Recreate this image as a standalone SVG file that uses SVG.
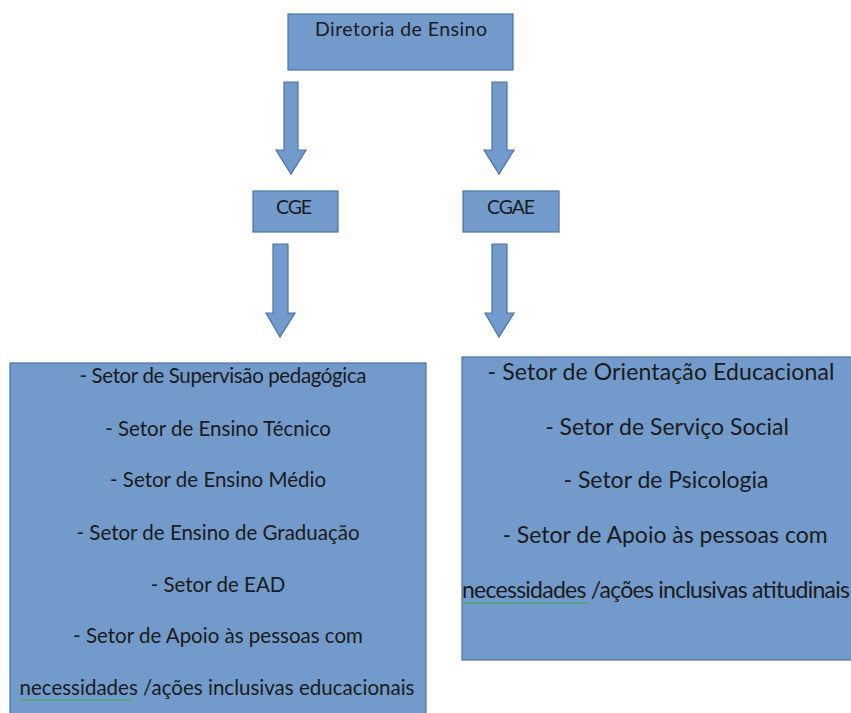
<svg xmlns="http://www.w3.org/2000/svg" width="851" height="713" viewBox="0 0 851 713">
<style>
.box{fill:#729acb;stroke:#4a74a8;stroke-width:1.2}
.arr{fill:#729acb;stroke:#4a74a8;stroke-width:1.2;stroke-linejoin:miter}
text{font-family:Lato,"Open Sans","Liberation Sans",sans-serif;fill:#1b1b1b;text-anchor:middle}
.t1{font-size:19.5px}
.t2{font-size:20.5px}
.t3{font-size:23px}
.sq{fill:none;stroke:#3fae3f;stroke-width:1}
</style>
<rect width="851" height="713" fill="#ffffff"/>
<g id="diretoria">
<rect class="box" x="288" y="14" width="225" height="56"/>
<text class="t1" x="401" y="36" textLength="172">Diretoria de Ensino</text>
</g>
<g id="cge">
<rect class="box" x="253" y="191" width="85" height="41"/>
<text class="t1" x="294" y="214" textLength="36">CGE</text>
</g>
<g id="cgae">
<rect class="box" x="463" y="191" width="96" height="41"/>
<text class="t1" x="511" y="214" textLength="48">CGAE</text>
</g>
<g id="setores-cge">
<rect class="box" x="10" y="363" width="416" height="356"/>
<text class="t2" x="223" y="383" textLength="287">- Setor de Supervisão pedagógica</text>
<text class="t2" x="218" y="436">- Setor de Ensino Técnico</text>
<text class="t2" x="218" y="487">- Setor de Ensino Médio</text>
<text class="t2" x="218" y="540">- Setor de Ensino de Graduação</text>
<text class="t2" x="218" y="592">- Setor de EAD</text>
<text class="t2" x="218" y="643">- Setor de Apoio às pessoas com</text>
<text class="t2" x="217" y="695" textLength="395">necessidades /ações inclusivas educacionais</text>
<path class="sq" d="M20 699 l2 2 l2 -2 l2 2 l2 -2 l2 2 l2 -2 l2 2 l2 -2 l2 2 l2 -2 l2 2 l2 -2 l2 2 l2 -2 l2 2 l2 -2 l2 2 l2 -2 l2 2 l2 -2 l2 2 l2 -2 l2 2 l2 -2 l2 2 l2 -2 l2 2 l2 -2 l2 2 l2 -2 l2 2 l2 -2 l2 2 l2 -2 l2 2 l2 -2 l2 2 l2 -2 l2 2 l2 -2 l2 2 l2 -2 l2 2 l2 -2 l2 2 l2 -2 l2 2 l2 -2 l2 2 l2 -2 l2 2 l2 -2 l2 2 l2 -2 l2 2 l2 -2"/>
</g>
<g id="setores-cgae">
<rect class="box" x="462" y="357" width="394" height="303"/>
<text class="t3" x="661" y="380" textLength="347">- Setor de Orientação Educacional</text>
<text class="t3" x="667" y="435">- Setor de Serviço Social</text>
<text class="t3" x="666" y="488">- Setor de Psicologia</text>
<text class="t3" x="665" y="543">- Setor de Apoio às pessoas com</text>
<text class="t3" x="656" y="598" textLength="388">necessidades /ações inclusivas atitudinais</text>
<path class="sq" d="M464 602 l2 2 l2 -2 l2 2 l2 -2 l2 2 l2 -2 l2 2 l2 -2 l2 2 l2 -2 l2 2 l2 -2 l2 2 l2 -2 l2 2 l2 -2 l2 2 l2 -2 l2 2 l2 -2 l2 2 l2 -2 l2 2 l2 -2 l2 2 l2 -2 l2 2 l2 -2 l2 2 l2 -2 l2 2 l2 -2 l2 2 l2 -2 l2 2 l2 -2 l2 2 l2 -2 l2 2 l2 -2 l2 2 l2 -2 l2 2 l2 -2 l2 2 l2 -2 l2 2 l2 -2 l2 2 l2 -2 l2 2 l2 -2 l2 2 l2 -2 l2 2 l2 -2 l2 2 l2 -2 l2 2 l2 -2 l2 2 l2 -2"/>
</g>
<g id="connectors">
<path class="arr" d="M284 82 H298 V150 H306 L291 174 L276 150 H284 Z"/>
<path class="arr" d="M492 82 H507 V150 H514 L499 174 L484 150 H492 Z"/>
<path class="arr" d="M273 244 H288 V313 H295 L280 337 L266 313 H273 Z"/>
<path class="arr" d="M492 244 H507 V313 H514 L499 337 L485 313 H492 Z"/>
</g>
</svg>
